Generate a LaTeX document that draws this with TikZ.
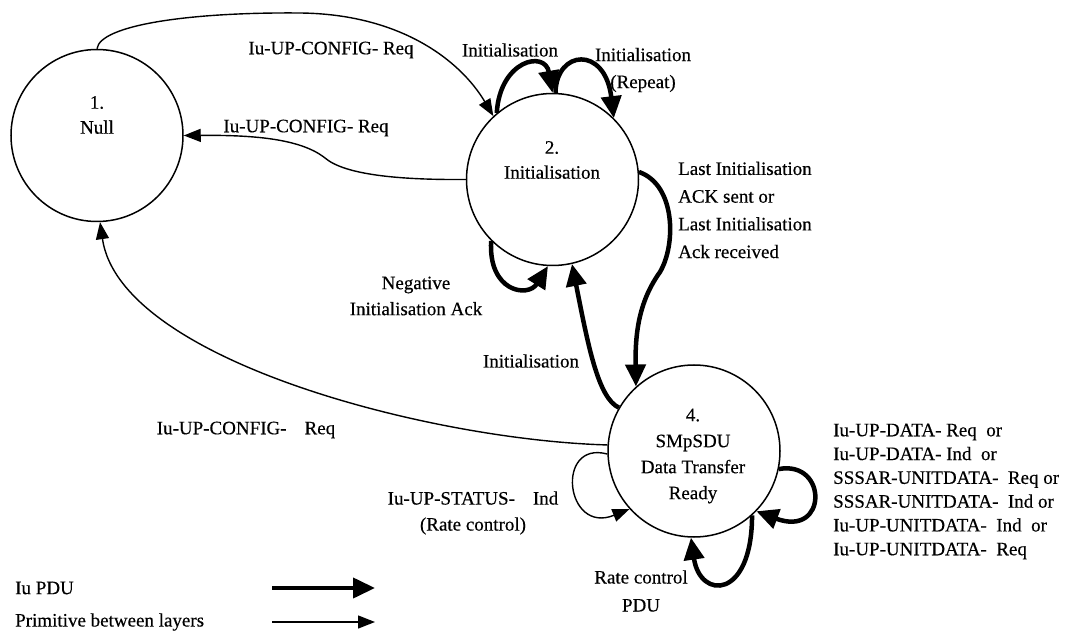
\documentclass[tikz,border=0pt]{standalone}
\usepackage{fontspec}
\setmainfont{Liberation Serif}
\newfontfamily\scanfont[FakeBold=0.35]{Liberation Serif}
\usetikzlibrary{arrows.meta}
\begin{document}
\begin{tikzpicture}[x=1pt,y=-1pt,
  state/.style={circle,draw,line width=1.5pt,minimum size=172pt,inner sep=0pt},
  txt/.style={font=\scanfont\fontsize{19}{25}\selectfont,inner sep=0pt,align=center},
  pdu/.style={line width=4.5pt,-{Triangle[length=22pt,width=20pt]}},
  prim/.style={line width=1.4pt,-{Triangle[length=17pt,width=13pt]}},
]
\path[use as bounding box,fill=white] (0,0) rectangle (1072,631);

% states
\node[state] (n1) at (97,135.5) {};
\node[state] (n2) at (552.5,179.5) {};
\node[state] (n4) at (694,451) {};
\node[txt] (t1) at (97,115) {1.\\Null};
\node[txt] (t2) at (552,160) {2.\\Initialisation};
\node[txt,font=\scanfont\fontsize{19}{26}\selectfont] (t4) at (693,456) {4.\\SMpSDU\\Data Transfer\\Ready};

% primitives between layers
\draw[prim] (n1.north) .. controls (100,25) and (190,12) .. (300,13)
  .. controls (400,14) and (460,60) .. (n2.133);
\draw[prim] (n2.west) .. controls (400,180) and (345,175) .. (325,158)
  .. controls (300,138) and (250,135) .. (n1.east);
\draw[prim] (n4.176) .. controls (430,440) and (120,360) .. (n1.272);
\draw[prim] (n4.182) .. controls (555,440) and (565,535) .. (n4.222);

% Iu PDUs
\draw[pdu] (n2.130) .. controls (500,60) and (545,50) .. (n2.north);
\draw[pdu] (n2.88) .. controls (556,50) and (605,45) .. (n2.45);
\draw[pdu] (n2.5) .. controls (676,185) and (676,245) .. (660,272)
  .. controls (640,300) and (635,330) .. (n4.132);
\draw[pdu] (n4.150) .. controls (598,398) and (588,345) .. (n2.283);
\draw[pdu] (n2.225) .. controls (488,292) and (528,298) .. (n2.267);
\draw[pdu] (n4.348) .. controls (828,460) and (828,538) .. (n4.316);
\draw[pdu] (n4.312) .. controls (752,600) and (700,600) .. (n4.268);

% transition labels
\node[txt] (la) at (331,50) {Iu-UP-CONFIG- Req};
\node[txt] (lb) at (306,128) {Iu-UP-CONFIG- Req};
\node[txt] (lc) at (510,50) {Initialisation};
\node[txt,font=\scanfont\fontsize{19}{27}\selectfont] (ld) at (643,70) {Initialisation\\(Repeat)};
\node[txt,anchor=west,align=left,font=\scanfont\fontsize{19}{27.7}\selectfont] (le) at (678,210)
  {Last Initialisation\\ACK sent or\\Last Initialisation\\Ack received};
\node[txt,font=\scanfont\fontsize{19}{26}\selectfont] (lf) at (416,296)
  {Negative\\Initialisation Ack};
\node[txt] (lg) at (531,361) {Initialisation};
\node[txt] (lh) at (246,430) {Iu-UP-CONFIG-\hspace{18pt}Req};
\node[txt,font=\scanfont\fontsize{19}{26}\selectfont] (li) at (473,513)
  {Iu-UP-STATUS-\hspace{18pt}Ind\\(Rate control)};
\node[txt,font=\scanfont\fontsize{19}{28}\selectfont] (lj) at (641,591) {Rate control\\PDU};
\node[txt,anchor=west,align=left,font=\scanfont\fontsize{19}{23.8}\selectfont] (lk) at (833,491.5)
  {Iu-UP-DATA- Req~ or\\Iu-UP-DATA- Ind~ or\\SSSAR-UNITDATA-~ Req or\\SSSAR-UNITDATA-~ Ind or\\Iu-UP-UNITDATA-~ Ind~ or\\Iu-UP-UNITDATA-~ Req};

% legend
\node[txt,anchor=west] (k1) at (15,588) {Iu PDU};
\node[txt,anchor=west] (k2) at (15,622) {Primitive between layers};
\coordinate (k1a) at (272,588);
\coordinate (k1b) at (375,588);
\coordinate (k2a) at (272,622);
\coordinate (k2b) at (375,622);
\draw[pdu,line width=4pt] (k1a) -- (k1b);
\draw[prim] (k2a) -- (k2b);
\end{tikzpicture}
\end{document}
